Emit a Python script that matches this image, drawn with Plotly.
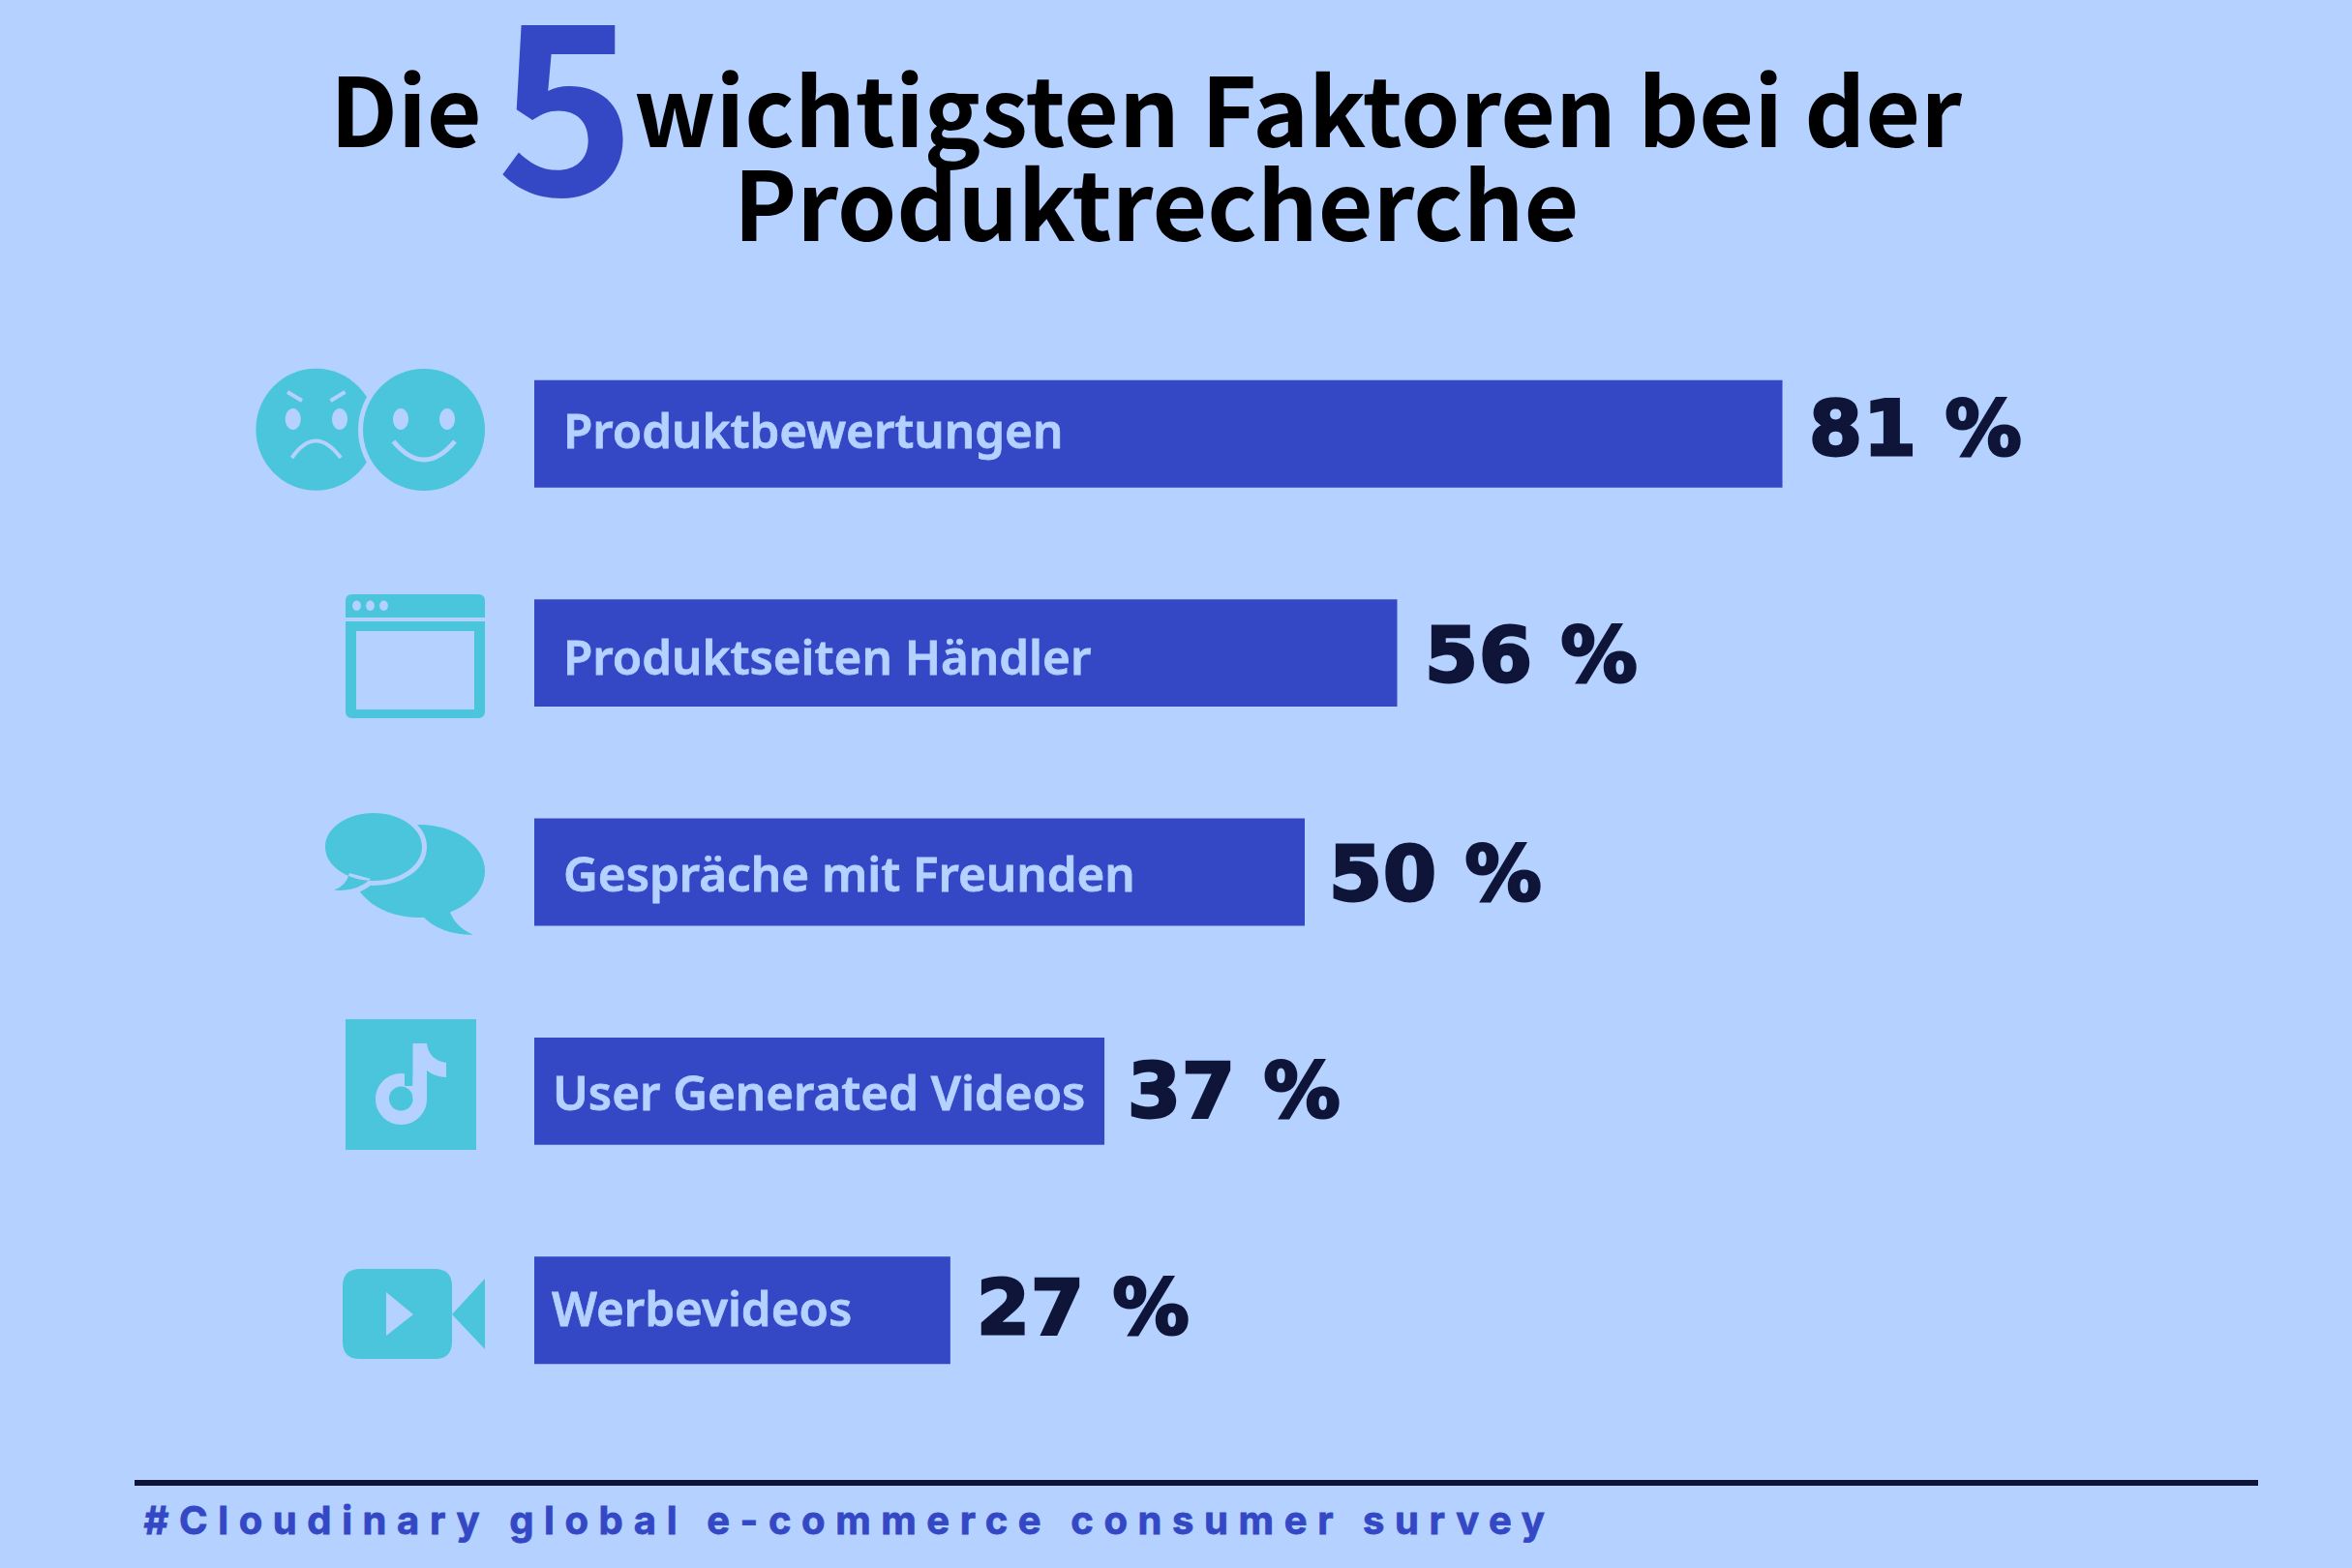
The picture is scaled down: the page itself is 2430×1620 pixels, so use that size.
import plotly.graph_objects as go

categories = ["Produktbewertungen", "Produktseiten Händler", "Gespräche mit Freunden", "User Generated Videos", "Werbevideos"]
values = [81, 56, 50, 37, 27]
value_labels = ["81 %", "56 %", "50 %", "37 %", "27 %"]
title_left = "Die"
title_big = "5"
title_line1 = "wichtigsten Faktoren bei der"
title_line2 = "Produktrecherche"
footer = "#Cloudinary global e-commerce consumer survey"

BG = "#B4D1FF"
BLUE = "#3448C5"
DARK = "#0E1538"
TEAL = "#4BC5DB"
W, H = 2430, 1620


def oval(cx, cy, rx, ry):
    k = 0.5523
    return (f"M{cx-rx},{cy} C{cx-rx},{cy-k*ry} {cx-k*rx},{cy-ry} {cx},{cy-ry} "
            f"C{cx+k*rx},{cy-ry} {cx+rx},{cy-k*ry} {cx+rx},{cy} "
            f"C{cx+rx},{cy+k*ry} {cx+k*rx},{cy+ry} {cx},{cy+ry} "
            f"C{cx-k*rx},{cy+ry} {cx-rx},{cy+k*ry} {cx-rx},{cy} Z")


def shape(path, color=TEAL, line=None, width=0):
    return dict(type="path", path=path, xref="x2", yref="y2", fillcolor=color,
                line=dict(color=line or color, width=width))


def stroke(path, width=4):
    return dict(type="path", path=path, xref="x2", yref="y2", fillcolor="rgba(0,0,0,0)",
                line=dict(color=BG, width=width))


front_bubble = oval(386, 875, 50, 35) + " M361,902 Q358,915 345,919.6 Q368,922 383,908 Z"

icons = [
    # angry face
    shape(oval(326.4, 443.7, 62, 63)),
    shape(oval(438, 444, 68, 68), BG),
    shape(oval(438, 444, 63, 63)),
    shape(oval(302.7, 433, 8, 11), BG),
    shape(oval(351, 433, 8, 11), BG),
    stroke("M297,405 L312,414"),
    stroke("M356.5,405 L341.5,414"),
    stroke("M301.5,473 Q326,438 352,473"),
    # happy face
    shape(oval(414, 433, 8, 11), BG),
    shape(oval(462, 433, 8, 11), BG),
    stroke("M406.5,456 Q438,494 470,456", 5),
    # browser window
    shape("M357,638 L357,621 Q357,614 364,614 L494,614 Q501,614 501,621 L501,638 Z"),
    shape("M357,642 L501,642 L501,735 Q501,742 494,742 L364,742 Q357,742 357,735 Z "
          "M368,652 L368,733 L490,733 L490,652 Z"),
    shape(oval(368.5, 625.7, 4.4, 5.2), BG),
    shape(oval(382.5, 625.7, 4.4, 5.2), BG),
    shape(oval(396.5, 625.7, 4.4, 5.2), BG),
    # speech bubbles
    shape(oval(433, 900, 68, 48)),
    shape("M436,946 Q455,966 489,965.7 Q470,958 464,940 Z"),
    shape(front_bubble, BG, BG, 10),
    shape(front_bubble),
    # tiktok
    shape("M357,1053 L492,1053 L492,1188 L357,1188 Z"),
    shape(oval(414.5, 1135.5, 26.5, 26.5) + " " + oval(414.3, 1135, 12.4, 12.6), BG),
    shape("M418,1104 L426.5,1104 L426.5,1122 L418,1122 Z"),
    shape("M426.5,1078 L441,1078 Q443,1095 461,1098 L461,1113 Q450,1113 441,1106 L441,1136 L426.5,1136 Z", BG),
    # camera
    shape("M372,1311 L449,1311 Q467,1311 467,1329 L467,1386 Q467,1404 449,1404 L372,1404 "
          "Q354,1404 354,1386 L354,1329 Q354,1311 372,1311 Z"),
    shape("M467,1358 L501,1321 L501,1394 Z"),
    shape("M399,1335 L427,1358 L399,1380 Z", BG),
    # footer rule
    dict(type="line", xref="x2", yref="y2", x0=139, x1=2333, y0=1532, y1=1532,
         line=dict(color=DARK, width=6)),
]

notes = []


def page_text(text, x, y, size, color, family, weight=700, xanchor="left"):
    notes.append(dict(text=text, x=x, y=y, xref="x2", yref="y2", showarrow=False, xanchor=xanchor, yanchor="middle",
                      font=dict(family=family, size=size, color=color, weight=weight)))


title_font = "Noto Sans CJK SC"
page_text(title_left, 339, 109, 98, "black", title_font)
page_text(title_big, 585, 95, 244, BLUE, title_font, xanchor="center")
page_text(title_line1, 653, 109, 98, "black", title_font)
page_text(title_line2, 1194, 206, 98, "black", title_font, xanchor="center")
page_text(footer, 877, 1570, 40, BLUE, "Inter", xanchor="center")

label_shift = [28, 28, 28, 17, 16]
label_lift = [5, -3, 0, 0, 3]
value_shift = [27, 28, 25, 24, 27]
value_lift = [5, -2, -2, 0, 3]
for i, cat in enumerate(categories):
    notes.append(dict(text=cat, x=0, y=cat, xref="x", yref="y", xanchor="left", xshift=label_shift[i], yshift=label_lift[i],
                      showarrow=False, font=dict(family="Noto Sans", size=49.3, color=BG, weight=600)))
    notes.append(dict(text=value_labels[i], x=values[i], y=cat, xref="x", yref="y", xanchor="left", xshift=value_shift[i],
                      yshift=value_lift[i], showarrow=False, font=dict(family="DejaVu Sans", size=79, color=DARK, weight=700)))

fig = go.Figure()
fig.add_bar(x=values, y=categories, orientation="h", marker=dict(color=BLUE, line_width=0), hoverinfo="skip")
fig.add_scatter(x=[], y=[], xaxis="x2", yaxis="y2", hoverinfo="skip")

fig.update_layout(
    width=W, height=H, margin=dict(l=0, r=0, t=0, b=0), autosize=False,
    paper_bgcolor=BG, plot_bgcolor="rgba(0,0,0,0)", showlegend=False, bargap=0.51,
    xaxis=dict(domain=[552 / W, 2144 / W], range=[0, 100], visible=False),
    yaxis=dict(domain=[1 - 1467 / H, 1 - 335 / H], range=[4.5, -0.5], type="category", visible=False),
    xaxis2=dict(domain=[0, 1], range=[0, W], visible=False, anchor="y2"),
    yaxis2=dict(domain=[0, 1], range=[H, 0], visible=False, anchor="x2"),
    shapes=icons, annotations=notes,
)

# letter spacing and the heavier weights have no plotly attribute, they go in through css
tweaks = """
document.body.style.margin = '0';
document.querySelectorAll('.annotation-text').forEach(function (t) {
    var s = t.textContent;
    if (s.startsWith('#')) {
        t.style.letterSpacing = '10.6px';
        t.style.stroke = '#3448C5';
        t.style.strokeWidth = '0.8px';
    } else if (s.endsWith(' %')) {
        t.style.letterSpacing = '1px';
        t.style.stroke = '#0E1538';
        t.style.strokeWidth = '3px';
    } else if (t.style.fill === 'rgb(180, 209, 255)') {
        t.style.stroke = '#B4D1FF';
        t.style.strokeWidth = '0.8px';
    }
});
"""
fig.write_html("out.html", post_script=tweaks, config=dict(displayModeBar=False))
